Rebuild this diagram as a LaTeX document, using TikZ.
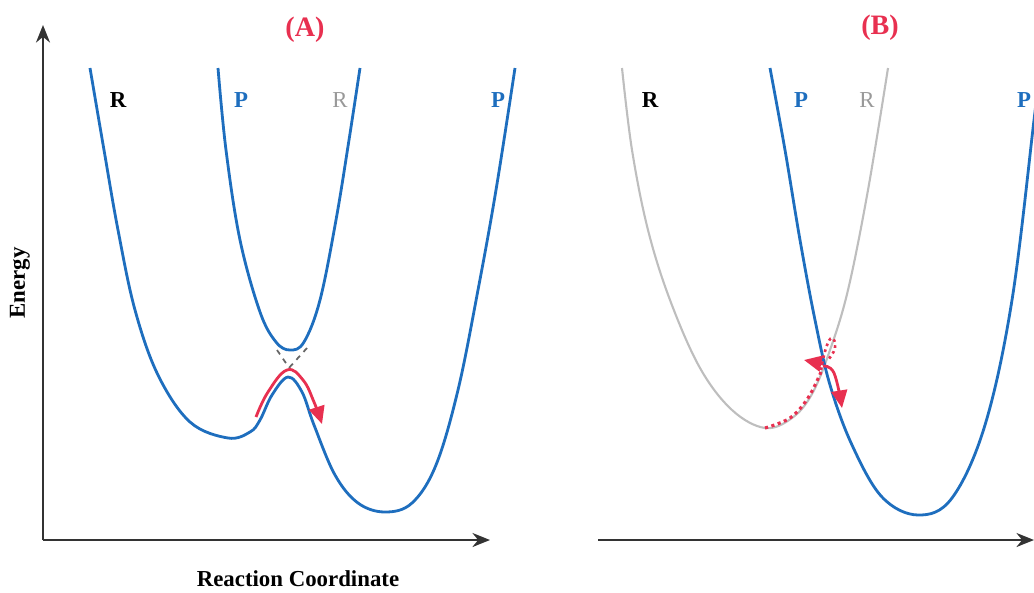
\documentclass[tikz,border=0pt]{standalone}
\usepackage{fontspec}
\setmainfont{Liberation Serif}
\usepackage{tikz}
\usetikzlibrary{arrows.meta}

\definecolor{surfblue}{RGB}{30,110,190}
\definecolor{pathred}{RGB}{232,48,80}
\definecolor{diabgray}{RGB}{190,190,190}

\tikzset{
  axis/.style={line width=1.2pt, black!80, -{Stealth[length=10pt,width=8pt]}},
  surf/.style={line width=1.6pt, surfblue},
  diab/.style={line width=1.2pt, diabgray},
  lbl/.style={font=\fontsize{13}{13}\selectfont\bfseries},
  panel/.style={font=\fontsize{16}{16}\selectfont\bfseries, text=pathred},
  hop/.style={line width=1.6pt, pathred, -{Triangle[length=10pt,width=9pt]}}
}

\begin{document}
\begin{tikzpicture}[x=0.02cm, y=-0.02cm]
\useasboundingbox (0,0) rectangle (1034,592);

% Panel titles and axis labels
\node[panel] (tA) at (305,30) {(A)};
\node[panel] (tB) at (880,28) {(B)};
\node[lbl, rotate=90] (ylab) at (20,283) {Energy};
\node[lbl] (xlab) at (298,579) {Reaction Coordinate};

% Axes (A)
\coordinate (oA) at (43,540);
\coordinate (yA) at (43,25);
\coordinate (xA) at (490,540);
\draw[axis] (oA) -- (yA);
\draw[axis] (oA) -- (xA);

% Axis (B)
\coordinate (oB) at (598,540);
\coordinate (xB) at (1034,540);
\draw[axis] (oB) -- (xB);

% (A) lower adiabatic surface
\draw[surf] plot[smooth, tension=0.6] coordinates {
  (90,68) (104,150) (118,230) (135,310) (158,375) (190,422) (228,438)
  (250,432) (260,420) (272,395) (288,377) (302,392) (314,425) (335,475)
  (358,503) (385,512) (412,503) (436,465) (458,390) (478,290) (496,190) (515,68)};

% (A) upper adiabatic surface
\draw[surf] plot[smooth, tension=0.6] coordinates {
  (218,68) (226,150) (240,240) (260,312) (276,342) (290,350) (304,342)
  (320,300) (336,220) (349,140) (360,68)};

% (A) diabatic crossing
\draw[line width=1pt, black!60, dashed] (277,350) -- (290,369);
\draw[line width=1pt, black!60, dashed] (307,348) -- (288,369);

% (A) adiabatic path
\draw[hop] plot[smooth, tension=0.7] coordinates {
  (256,417) (268,392) (287,370) (303,380) (314,402) (322,424)};

% (B) reactant diabatic surface
\draw[diab] plot[smooth, tension=0.6] coordinates {
  (622,68) (632,150) (648,230) (670,300) (700,368) (732,410) (765,428)
  (792,418) (812,394) (830,350) (848,290) (868,190) (888,68)};

% (B) product diabatic surface
\begin{scope}
\clip (0,0) rectangle (1034,592);
\draw[surf] plot[smooth, tension=0.6] coordinates {
  (770,68) (785,150) (800,240) (815,320) (830,385) (852,445) (882,497)
  (918,515) (952,498) (985,425) (1012,300) (1034,120) (1040,68)};
\end{scope}

% (B) hopping trajectory
\draw[line width=1.8pt, pathred, dotted] plot[smooth, tension=0.6] coordinates {
  (765,428) (790,418) (808,398) (821,372)};
\draw[line width=1.5pt, pathred, dotted] plot[smooth, tension=0.8] coordinates {
  (821,370) (826,348) (832,338) (835,348) (828,360)};
\draw[hop] (823,364) -- (804,360);
\draw[hop] plot[smooth, tension=0.7] coordinates {(823,366) (834,373) (842,408)};

% State labels
\node[lbl, text=black] (rA1) at (118,100) {R};
\node[lbl, text=surfblue] (pA1) at (241,100) {P};
\node[lbl, text=black!40, font=\fontsize{13}{13}\selectfont] (rA2) at (340,100) {R};
\node[lbl, text=surfblue] (pA2) at (498,100) {P};
\node[lbl, text=black] (rB1) at (650,100) {R};
\node[lbl, text=surfblue] (pB1) at (801,100) {P};
\node[lbl, text=black!40, font=\fontsize{13}{13}\selectfont] (rB2) at (867,100) {R};
\node[lbl, text=surfblue] (pB2) at (1024,100) {P};

\end{tikzpicture}
\end{document}
